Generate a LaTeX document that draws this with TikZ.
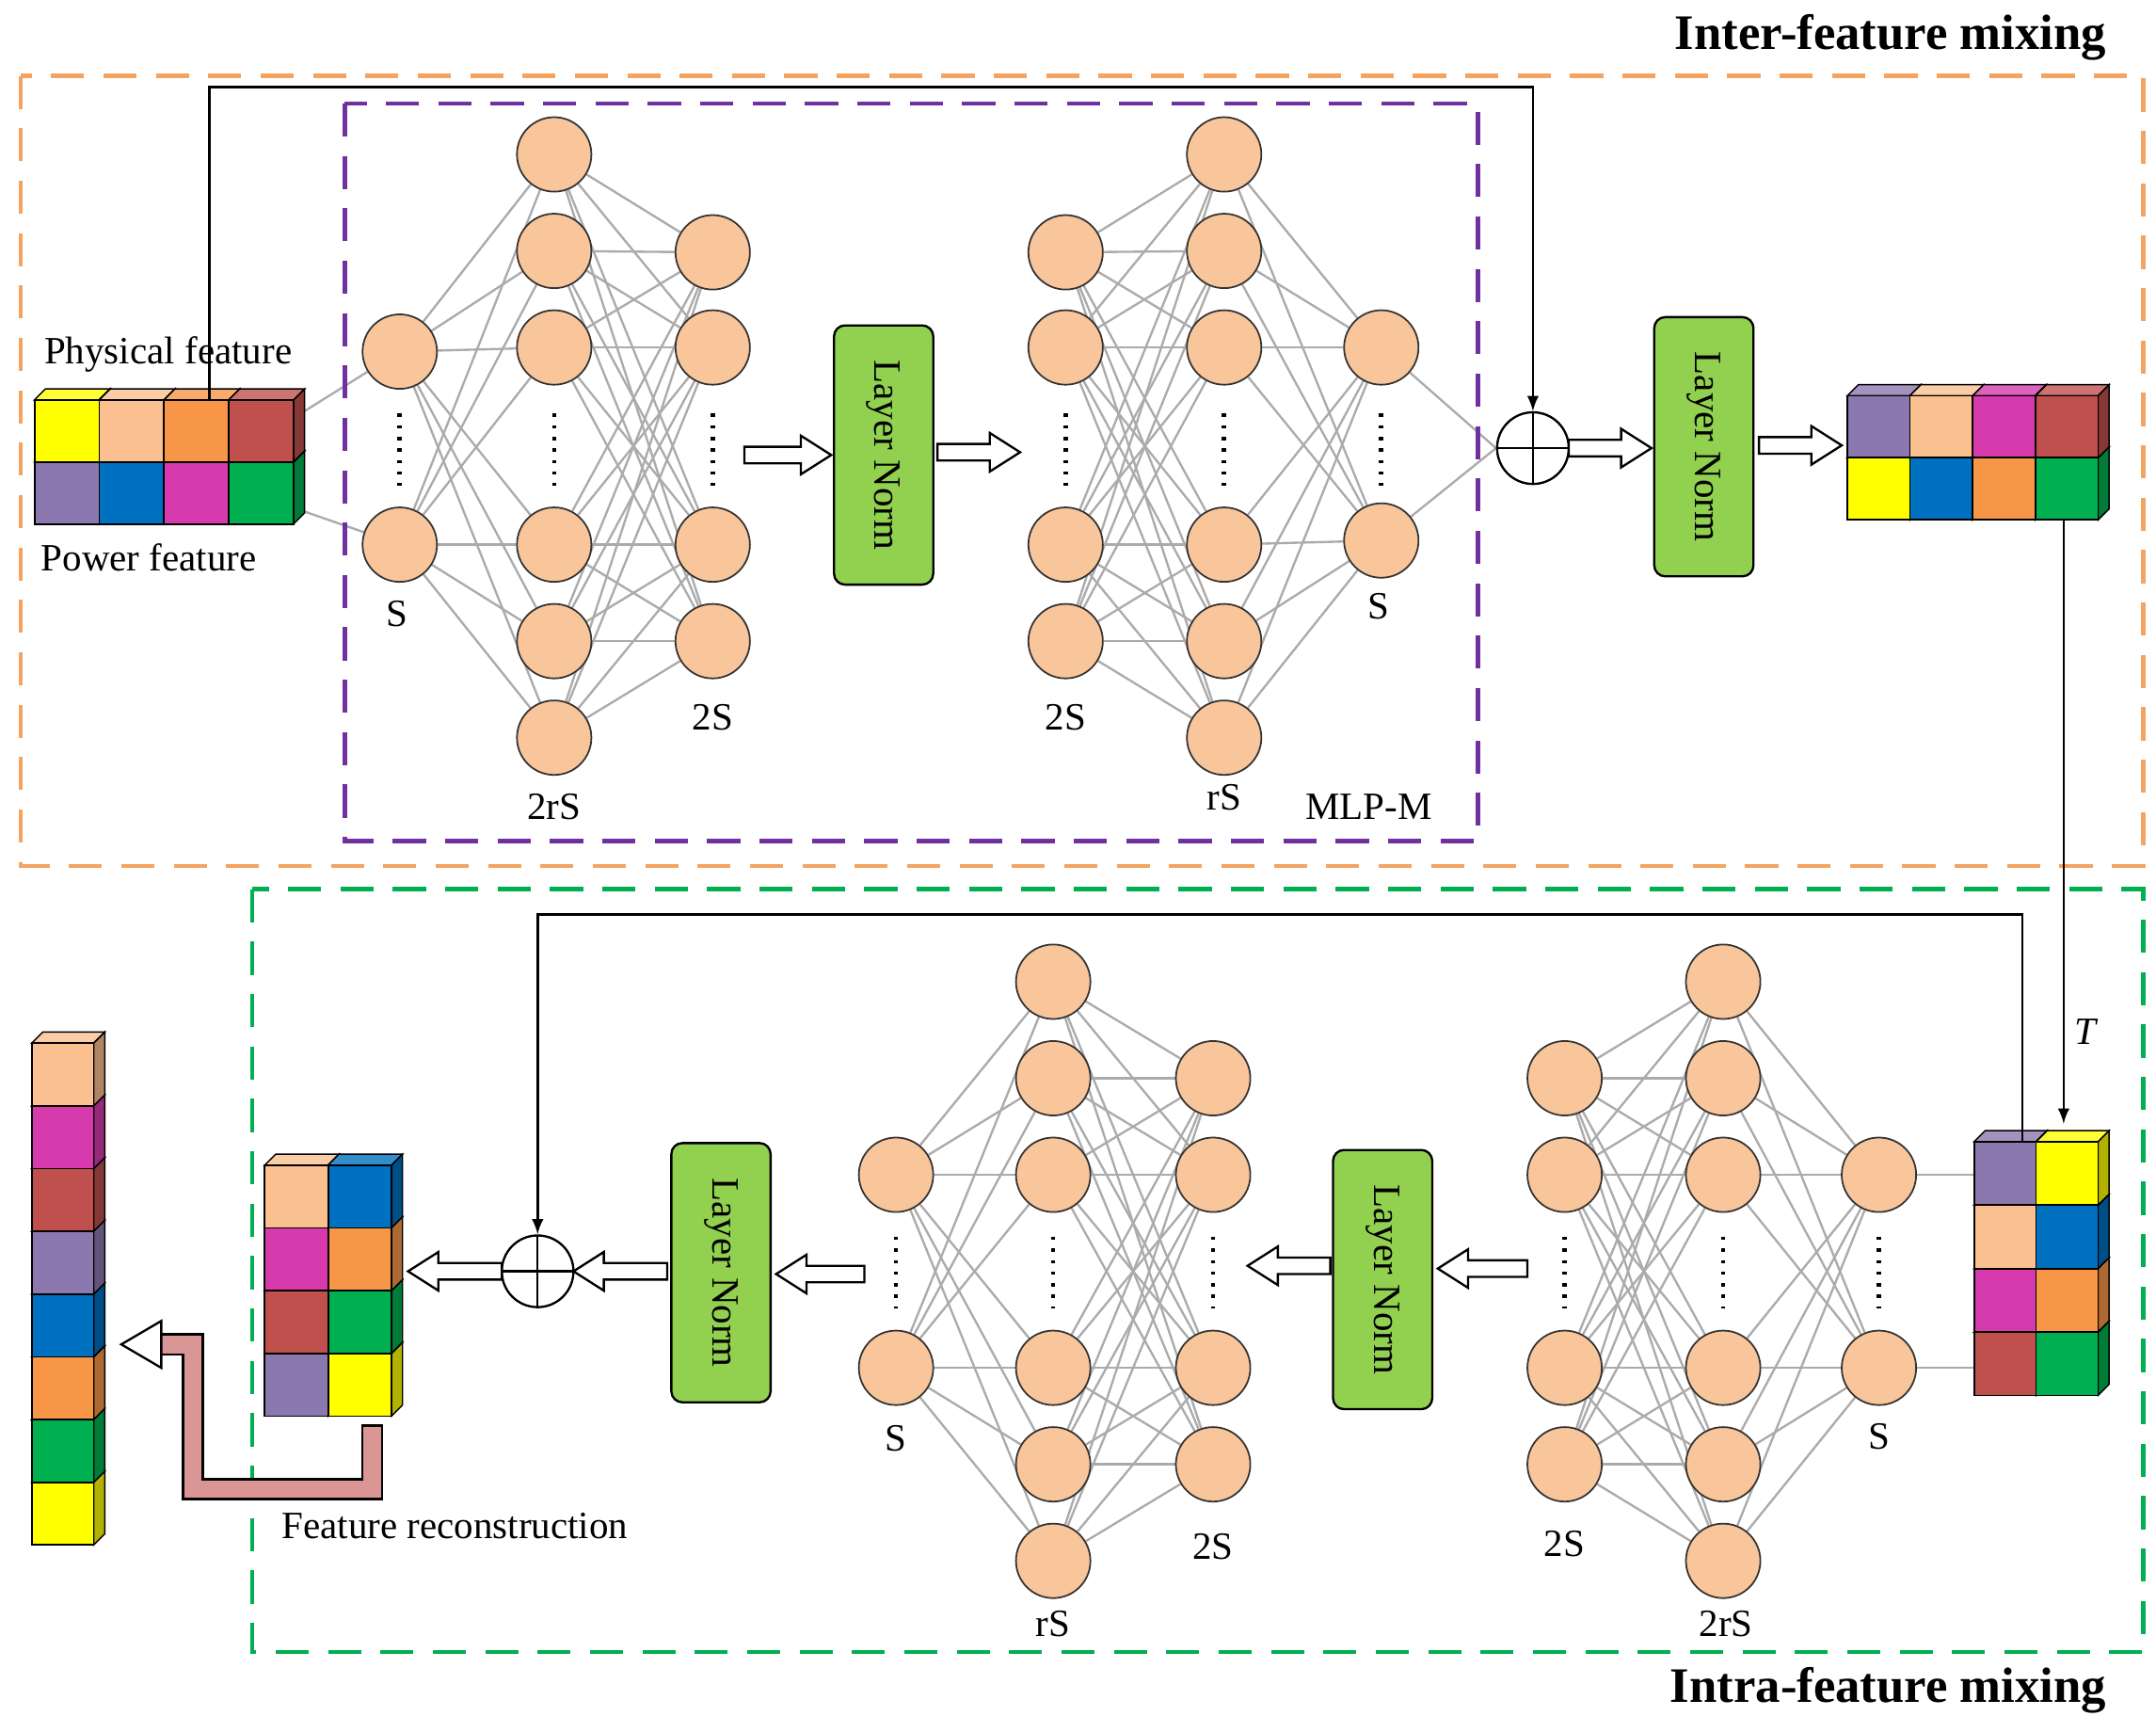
\documentclass[tikz,border=0pt]{standalone}
\usepackage{fontspec}
\setmainfont{Liberation Serif}
\usetikzlibrary{backgrounds,calc}
\definecolor{peach}{HTML}{F9C59A}
\definecolor{cyel}{HTML}{FFFF00}
\definecolor{cpea}{HTML}{FAC090}
\definecolor{cora}{HTML}{F79646}
\definecolor{cred}{HTML}{C0504D}
\definecolor{cpur}{HTML}{8B78AE}
\definecolor{cblu}{HTML}{0070C0}
\definecolor{cmag}{HTML}{D63AAD}
\definecolor{cgre}{HTML}{00B050}
\definecolor{lngreen}{HTML}{92D050}
\definecolor{corbox}{HTML}{F4A460}
\definecolor{purbox}{HTML}{7030A0}
\definecolor{grebox}{HTML}{00B050}
\definecolor{recon}{HTML}{D99694}
\tikzset{
 neu/.style={circle,draw=black!80,fill=peach,minimum size=27pt,inner sep=0pt,line width=0.6pt},
 conn/.style={draw=black!33,line width=0.8pt},
 lbl/.style={font=\fontsize{14}{14}\selectfont},
 ln/.style={draw=black,fill=lngreen,rounded corners=4pt,minimum width=94pt,minimum height=36pt,rotate=-90,font=\fontsize{14}{14}\selectfont,line width=0.8pt},
 plus/.style={circle,draw,minimum size=26pt,inner sep=0pt,line width=0.8pt,path picture={\draw[line width=0.8pt] (path picture bounding box.north)--(path picture bounding box.south) (path picture bounding box.west)--(path picture bounding box.east);}},
 dbox/.style={dashed,dash pattern=on 12pt off 7pt,line width=1.6pt},
 title/.style={font=\bfseries\fontsize{18}{18}\selectfont},
 dts/.style={line width=1.6pt,dash pattern=on 1.2pt off 3pt},
}
\newcommand\cell[5]{%
 \fill[#5!80!white,draw=black,line width=0.5pt] (#1,#2)--++(8,-8)--++(#3,0)--++(-8,8)--cycle;
 \fill[#5!70!black,draw=black,line width=0.5pt] (#1+#3,#2)--++(8,-8)--++(0,#4)--++(-8,8)--cycle;
 \filldraw[fill=#5,draw=black,line width=0.6pt] (#1,#2) rectangle ++(#3,#4);}
\newcommand\harrow[3]{%
 \pgfmathsetmacro\hs{ifthenelse(#2>#1,1,-1)}%
 \pgfmathsetmacro\hb{#2-\hs*22}%
 \filldraw[fill=white,draw=black,line width=0.8pt] (#1,#3-6)--(\hb,#3-6)--(\hb,#3-14)--(#2,#3)--(\hb,#3+14)--(\hb,#3+6)--(#1,#3+6)--cycle;}
\newcommand\vdotsc[2]{\draw[dts] (#1,#2-25)--(#1,#2+27);}
\begin{document}
\begin{tikzpicture}[x=0.5pt,y=-0.5pt]
\useasboundingbox (0,0) rectangle (1564,1256);
\draw[dbox,draw=corbox] (15,55) rectangle (1555,628);
\draw[dbox,draw=purbox] (250,75) rectangle (1072,610);
\draw[dbox,draw=grebox] (183,645) rectangle (1555,1198);
\node[title,anchor=east] at (1535,27) {Inter-feature mixing};
\node[title,anchor=east] at (1535,1226) {Intra-feature mixing};
% ---------- top ----------
\foreach \i/\y in {1/255,2/395} {\node[neu] (a1-\i) at (290,\y) {};}
\foreach \i/\y in {1/112,2/182,3/252,4/395,5/465,6/535} {\node[neu] (a2-\i) at (402,\y) {};}
\foreach \i/\y in {1/183,2/252,3/395,4/465} {\node[neu] (a3-\i) at (517,\y) {};}
\foreach \i/\y in {1/183,2/252,3/395,4/465} {\node[neu] (a4-\i) at (773,\y) {};}
\foreach \i/\y in {1/112,2/182,3/252,4/395,5/465,6/535} {\node[neu] (a5-\i) at (888,\y) {};}
\foreach \i/\y in {1/252,2/392} {\node[neu] (a6-\i) at (1002,\y) {};}
\vdotsc{290}{325}\vdotsc{402}{325}\vdotsc{517}{325}\vdotsc{773}{325}\vdotsc{888}{325}\vdotsc{1002}{325}
\node[lbl] at (288,445) {S};
\node[lbl] at (402,585) {2rS};
\node[lbl] at (517,520) {2S};
\node[lbl] at (773,520) {2S};
\node[lbl] at (888,578) {rS};
\node[lbl] at (1000,440) {S};
\node[lbl] at (993,585) {MLP-M};
\node[ln] (ln1) at (641,330) {Layer Norm};
\node[ln] (ln2) at (1236,324) {Layer Norm};
\node[plus] (p1) at (1112,325) {};
\begin{scope}[on background layer]
\foreach \a in {1,2} {\foreach \b in {1,...,6} {\draw[conn] (a1-\a)--(a2-\b);}}
\foreach \a in {1,...,6} {\foreach \b in {1,...,4} {\draw[conn] (a2-\a)--(a3-\b);}}
\foreach \a in {1,...,4} {\foreach \b in {1,...,6} {\draw[conn] (a4-\a)--(a5-\b);}}
\foreach \a in {1,...,6} {\foreach \b in {1,2} {\draw[conn] (a5-\a)--(a6-\b);}}
\foreach \a in {1,2} {\draw[conn] (a6-\a)--(p1.west);}
\coordinate (in1) at (218,300); \coordinate (in2) at (218,370);
\draw[conn] (in1)--(a1-1); \draw[conn] (in2)--(a1-2);
\end{scope}
\foreach \c [count=\i from 0] in {cpur,cblu,cmag,cgre} {\cell{25+\i*47}{335}{47}{45}{\c}}
\foreach \c [count=\i from 0] in {cyel,cpea,cora,cred} {\cell{25+\i*47}{290}{47}{45}{\c}}
\node[lbl] at (122,257) {Physical feature};
\node[lbl] at (108,404) {Power feature};
\coordinate (s1) at (152,290);
\draw[line width=0.9pt,-latex] (s1)--(152,63)--(1112,63)--(p1.north);
\harrow{540}{603}{330}
\harrow{680}{740}{328}
\harrow{1138}{1198}{325}
\harrow{1276}{1336}{323}
\foreach \c [count=\i from 0] in {cyel,cblu,cora,cgre} {\cell{1340+\i*45.5}{332}{45.5}{45}{\c}}
\foreach \c [count=\i from 0] in {cpur,cpea,cmag,cred} {\cell{1340+\i*45.5}{287}{45.5}{45}{\c}}
\coordinate (t1) at (1497,377);\coordinate (t2) at (1497,815);
\draw[line width=0.9pt,-latex] (t1)--(t2);
\node[font=\itshape\fontsize{14}{14}\selectfont] at (1513,748) {T};
% ---------- bottom ----------
\foreach \r/\ca/\cb in {3/cred/cgre,2/cmag/cora,1/cpea/cblu,0/cpur/cyel}{%
 \cell{1432}{828+\r*46}{45}{46}{\ca}\cell{1477}{828+\r*46}{45}{46}{\cb}}
\foreach \i/\y in {1/852,2/992} {\node[neu] (b1-\i) at (1363,\y) {};}
\foreach \i/\y in {1/712,2/782,3/852,4/992,5/1062,6/1132} {\node[neu] (b2-\i) at (1250,\y) {};}
\foreach \i/\y in {1/782,2/852,3/992,4/1062} {\node[neu] (b3-\i) at (1135,\y) {};}
\foreach \i/\y in {1/782,2/852,3/992,4/1062} {\node[neu] (b4-\i) at (880,\y) {};}
\foreach \i/\y in {1/712,2/782,3/852,4/992,5/1062,6/1132} {\node[neu] (b5-\i) at (764,\y) {};}
\foreach \i/\y in {1/852,2/992} {\node[neu] (b6-\i) at (650,\y) {};}
\vdotsc{1363}{922}\vdotsc{1250}{922}\vdotsc{1135}{922}\vdotsc{880}{922}\vdotsc{764}{922}\vdotsc{650}{922}
\node[lbl] at (1363,1042) {S};
\node[lbl] at (1252,1178) {2rS};
\node[lbl] at (1135,1120) {2S};
\node[lbl] at (880,1122) {2S};
\node[lbl] at (764,1178) {rS};
\node[lbl] at (650,1043) {S};
\node[ln] (ln3) at (1003,928) {Layer Norm};
\node[ln] (ln4) at (523,923) {Layer Norm};
\node[plus] (p2) at (390,922) {};
\begin{scope}[on background layer]
\coordinate (o1) at (1432,852); \coordinate (o2) at (1432,992);
\draw[conn] (o1)--(b1-1); \draw[conn] (o2)--(b1-2);
\foreach \a in {1,2} {\foreach \b in {1,...,6} {\draw[conn] (b1-\a)--(b2-\b);}}
\foreach \a in {1,...,6} {\foreach \b in {1,...,4} {\draw[conn] (b2-\a)--(b3-\b);}}
\foreach \a in {1,...,4} {\foreach \b in {1,...,6} {\draw[conn] (b4-\a)--(b5-\b);}}
\foreach \a in {1,...,6} {\foreach \b in {1,2} {\draw[conn] (b5-\a)--(b6-\b);}}
\end{scope}
\coordinate (s2) at (1467,828);
\draw[line width=0.9pt,-latex] (s2)--(1467,663)--(390,663)--(p2.north);
\harrow{1108}{1043}{920}
\harrow{965}{905}{918}
\harrow{627}{563}{924}
\harrow{484}{416}{922}
\harrow{364}{296}{922}
\foreach \r/\ca/\cb in {3/cpur/cyel,2/cred/cgre,1/cmag/cora,0/cpea/cblu}{%
 \cell{192}{845+\r*45.5}{46}{45.5}{\ca}\cell{238}{845+\r*45.5}{46}{45.5}{\cb}}
\draw[line width=8pt,line join=miter] (270,1033)--(270,1080)--(140,1080)--(140,975)--(116,975);
\draw[line width=6.4pt,recon,line join=miter] (270,1035)--(270,1080)--(140,1080)--(140,975)--(114,975);
\filldraw[fill=white,draw=black,line width=0.8pt] (117,958)--(88,975)--(117,992)--cycle;
\node[lbl] at (330,1107) {Feature reconstruction};
\foreach \c [count=\i from 0] in {cyel,cgre,cora,cblu,cpur,cred,cmag,cpea} {\cell{23}{1075-\i*45.5}{45}{45.5}{\c}}
\end{tikzpicture}
\end{document}
